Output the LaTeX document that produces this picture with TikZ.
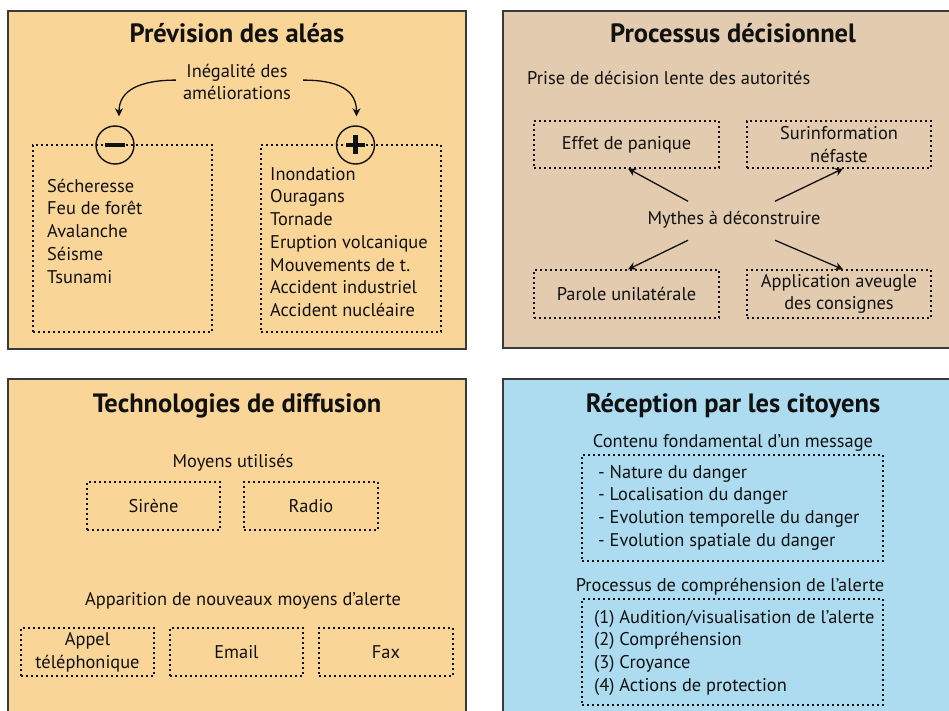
\documentclass[tikz,border=0pt]{standalone}
\usepackage{fontspec}
\setmainfont{PT Sans}
\usetikzlibrary{arrows.meta,calc}
\definecolor{orangep}{HTML}{F9D598}
\definecolor{tanp}{HTML}{E2CBAE}
\definecolor{bluep}{HTML}{ADDCF1}
\definecolor{edgec}{HTML}{3A3A3A}
\definecolor{inkc}{HTML}{111111}
\newcommand\bdf{\fontsize{18.4}{22.75}\selectfont}
\newcommand\ttlf{\fontsize{26.5}{30}\selectfont\bfseries}
\begin{document}
\begin{tikzpicture}[x=1pt,y=-1pt,
  panel/.style={draw=edgec,line width=1.3pt},
  dbox/.style={draw=inkc,line width=1.2pt,dash pattern=on 2pt off 3pt,inner sep=0pt,align=center,font=\bdf,text=inkc},
  txt/.style={inner sep=0pt,font=\bdf,text=inkc},
  ttl/.style={inner sep=0pt,font=\ttlf,text=inkc,anchor=base},
  arr/.style={draw=inkc,line width=1.3pt,-{Stealth[length=8pt,width=8pt]}},
  sign/.style={draw=inkc,line width=1.4pt,circle,minimum size=38pt,inner sep=0pt},
  bar/.style={draw=inkc,line width=4.5pt}
]
\useasboundingbox (0,0) rectangle (949,711);
% panels
\fill[white] (0,0) rectangle (949,711);
\draw[panel,fill=orangep] (8,11) rectangle (466,349);
\draw[panel,fill=tanp] (503,11) rectangle (960,348);
\draw[panel,fill=orangep] (8,379) rectangle (466,725);
\draw[panel,fill=bluep] (503,379) rectangle (960,725);

% ---------- Panel 1
\node[ttl] (t1) at (237,43) {Prévision des aléas};
\node[txt,align=center,anchor=base] (ineg) at (237,100) {Inégalité des\\améliorations};
\node[dbox,minimum width=179pt,minimum height=187pt] (boxm) at (122.5,238.5) {};
\node[dbox,minimum width=180pt,minimum height=187pt] (boxp) at (351,238.5) {};
\node[sign] (minus) at (115,145) {};
\node[sign] (plus) at (355.5,145) {};
\draw[bar] ([xshift=-10pt]minus.center) -- ([xshift=10pt]minus.center);
\draw[bar] ([xshift=-9.5pt]plus.center) -- ([xshift=9.5pt]plus.center);
\draw[bar] ([yshift=-9.5pt]plus.center) -- ([yshift=9.5pt]plus.center);
\draw[arr] ([xshift=-7pt,yshift=2pt]ineg.west) .. controls +(-36,0) and +(0,-26) .. ([xshift=4pt,yshift=9pt]minus.north);
\draw[arr] ([xshift=12pt,yshift=2pt]ineg.east) .. controls +(36,0) and +(0,-26) .. ([xshift=1pt,yshift=9pt]plus.north);
\node[txt,align=left,anchor=base west] (listm) at (47,283) {Sécheresse\\Feu de forêt\\Avalanche\\Séisme\\Tsunami};
\node[txt,align=left,anchor=base west] (listp) at (270,316.5) {Inondation\\Ouragans\\Tornade\\Eruption volcanique\\Mouvements de t.\\Accident industriel\\Accident nucléaire};

% ---------- Panel 2
\node[ttl] (t2) at (733,43) {Processus décisionnel};
\node[txt,anchor=base west] (prise) at (527,85) {Prise de décision lente des autorités};
\node[dbox,minimum width=185pt,minimum height=47pt] (effet) at (626.5,144.5) {Effet de panique};
\node[dbox,minimum width=184pt,minimum height=47pt] (surinfo) at (839,144.5) {Surinformation\\néfaste};
\node[dbox,minimum width=185pt,minimum height=48pt] (parole) at (626.5,294) {Parole unilatérale};
\node[dbox,minimum width=184pt,minimum height=48pt] (appli) at (839,294) {Application aveugle\\des consignes};
\node[txt,anchor=base] (mythes) at (734,225) {Mythes à déconstruire};
\coordinate (m1) at ($(mythes.center)+(-46,-19)$);
\coordinate (m2) at ($(mythes.center)+(41,-19)$);
\coordinate (m3) at ($(mythes.center)+(-46,20)$);
\coordinate (m4) at ($(mythes.center)+(41,20)$);
\draw[arr] (m1) -- ([xshift=1.5pt]effet.south);
\draw[arr] (m2) -- ([xshift=4pt]surinfo.south);
\draw[arr] (m3) -- ([xshift=1.5pt]parole.north);
\draw[arr] (m4) -- ([xshift=4pt]appli.north);

% ---------- Panel 3
\node[ttl] (t3) at (237,412) {Technologies de diffusion};
\node[txt,anchor=base] (moyens) at (233,467) {Moyens utilisés};
\node[dbox,minimum width=133pt,minimum height=48pt] (sirene) at (153.5,506) {Sirène};
\node[dbox,minimum width=134pt,minimum height=48pt] (radio) at (311,506) {Radio};
\node[txt,anchor=base] (appar) at (243,605) {Apparition de nouveaux moyens d’alerte};
\node[dbox,minimum width=133pt,minimum height=48pt] (appel) at (87.5,652) {Appel\\téléphonique};
\node[dbox,minimum width=133pt,minimum height=48pt] (email) at (236.5,652) {Email};
\node[dbox,minimum width=134pt,minimum height=48pt] (fax) at (386,652) {Fax};

% ---------- Panel 4
\node[ttl] (t4) at (733,412) {Réception par les citoyens};
\node[txt,anchor=base] (contenu) at (733,447) {Contenu fondamental d’un message};
\node[dbox,minimum width=301pt,minimum height=106pt] (boxc) at (732.5,508) {};
\node[txt,align=left,anchor=base west] (listc) at (598,546.25) {- Nature du danger\\- Localisation du danger\\- Evolution temporelle du danger\\- Evolution spatiale du danger};
\node[txt,anchor=base] (proc) at (730,591) {Processus de compréhension de l’alerte};
\node[dbox,minimum width=301pt,minimum height=106pt] (boxa) at (732.5,652) {};
\node[txt,align=left,anchor=base west] (lista) at (594,691.25) {(1) Audition/visualisation de l’alerte\\(2) Compréhension\\(3) Croyance\\(4) Actions de protection};
\end{tikzpicture}
\end{document}
